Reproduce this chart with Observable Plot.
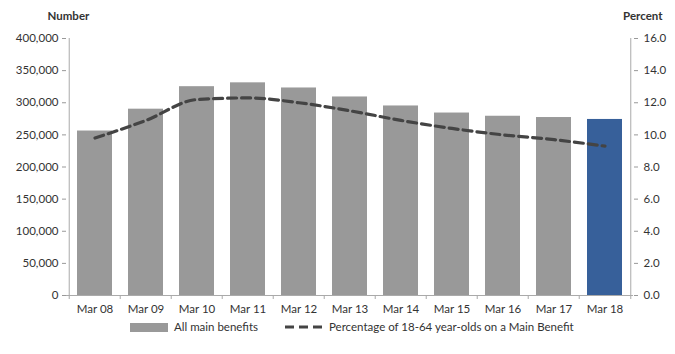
<!DOCTYPE html>
<html><head><meta charset="utf-8">
<script src="https://cdn.jsdelivr.net/npm/d3@7"></script>
<script src="https://cdn.jsdelivr.net/npm/@observablehq/plot@0.6"></script>
<style>
body{margin:0;background:#fff;font-family:Lato,"Open Sans",sans-serif;}
#wrap{position:relative;width:675px;height:354px;}
#legend{position:absolute;left:0;top:318px;width:675px;height:20px;font-size:11.5px;color:#333;}
.sw{position:absolute;}
</style></head>
<body><div id="wrap"><div id="chart"></div>
<div id="legend">
 <div class="sw" style="left:130px;top:5px;width:38px;height:9px;background:#999999"></div>
 <div class="sw" style="left:174px;top:2px;">All main benefits</div>
 <svg class="sw" style="left:285px;top:4px" width="40" height="10"><line x1="0" y1="5" x2="38" y2="5" stroke="#444" stroke-width="3" stroke-dasharray="9,5"/></svg>
 <div class="sw" style="left:329px;top:2px;">Percentage of 18-64 year-olds on a Main Benefit</div>
</div></div>
<script>
const categories = ["Mar 08","Mar 09","Mar 10","Mar 11","Mar 12","Mar 13","Mar 14","Mar 15","Mar 16","Mar 17","Mar 18"];
const benefits = [256000,290000,325000,331000,323000,309000,295000,284000,279000,277000,274000];
const percent = [9.8,10.9,12.2,12.3,12.0,11.5,10.9,10.4,10.0,9.7,9.3];
const leftTicks = [0,50000,100000,150000,200000,250000,300000,350000,400000];

const ratio = 400000/16;
const data = categories.map((c,i)=>({c, v:benefits[i], p:percent[i], last:i===categories.length-1}));
const W=675, H=320, ml=66, mr=42, mt=38, mb=25;
const step = (W-ml-mr)/categories.length;
const fmt = d3.format(",");

const chart = Plot.plot({
  width:W, height:H, marginLeft:ml, marginRight:mr, marginTop:mt, marginBottom:mb,
  style:{fontFamily:"Lato, 'Open Sans', sans-serif", fontSize:"11.5px", color:"#333"},
  x:{domain:categories, paddingInner:0.32, paddingOuter:0.16, label:null},
  y:{domain:[0,400000], label:null},
  marks:[
    Plot.barY(data,{x:"c", y:"v", fill:d=>d.last?"#37609a":"#999999"}),
    Plot.line(data,{x:"c", y:d=>d.p*ratio, stroke:"#444", strokeWidth:3.2, strokeDasharray:"9,5", curve:"monotone-x"}),
    Plot.axisY({anchor:"left", ticks:leftTicks, tickFormat:fmt, tickSize:4, tickPadding:4, stroke:"#999", fill:"#333", label:null}),
    Plot.axisY({anchor:"right", ticks:leftTicks, tickFormat:d=>(d/ratio).toFixed(1), tickSize:4, tickPadding:6, stroke:"#999", fill:"#333", label:null}),
    Plot.ruleX([0],{x:()=>categories[0], dx:-step/2, y1:0, y2:400000, stroke:"#aaa"}),
    Plot.ruleX([0],{x:()=>categories[categories.length-1], dx:step/2, y1:0, y2:400000, stroke:"#aaa"}),
    Plot.ruleY([0],{stroke:"#aaa"}),
    Plot.ruleX(categories,{x:d=>d, dx:-step/2, y1:0, y2:0, insetBottom:-4, stroke:"#aaa"}),
    Plot.ruleX([categories[categories.length-1]],{x:d=>d, dx:step/2, y1:0, y2:0, insetBottom:-4, stroke:"#aaa"}),
    Plot.axisX({anchor:"bottom", tickSize:0, tickPadding:9, fill:"#333", label:null}),
    Plot.text(["Number"],{frameAnchor:"top-left", dx:-19, dy:-27, fontWeight:"bold", textAnchor:"start"}),
    Plot.text(["Percent"],{frameAnchor:"top-right", dx:29, dy:-27, fontWeight:"bold", textAnchor:"end"})
  ]
});
document.getElementById("chart").appendChild(chart);
</script></body></html>
